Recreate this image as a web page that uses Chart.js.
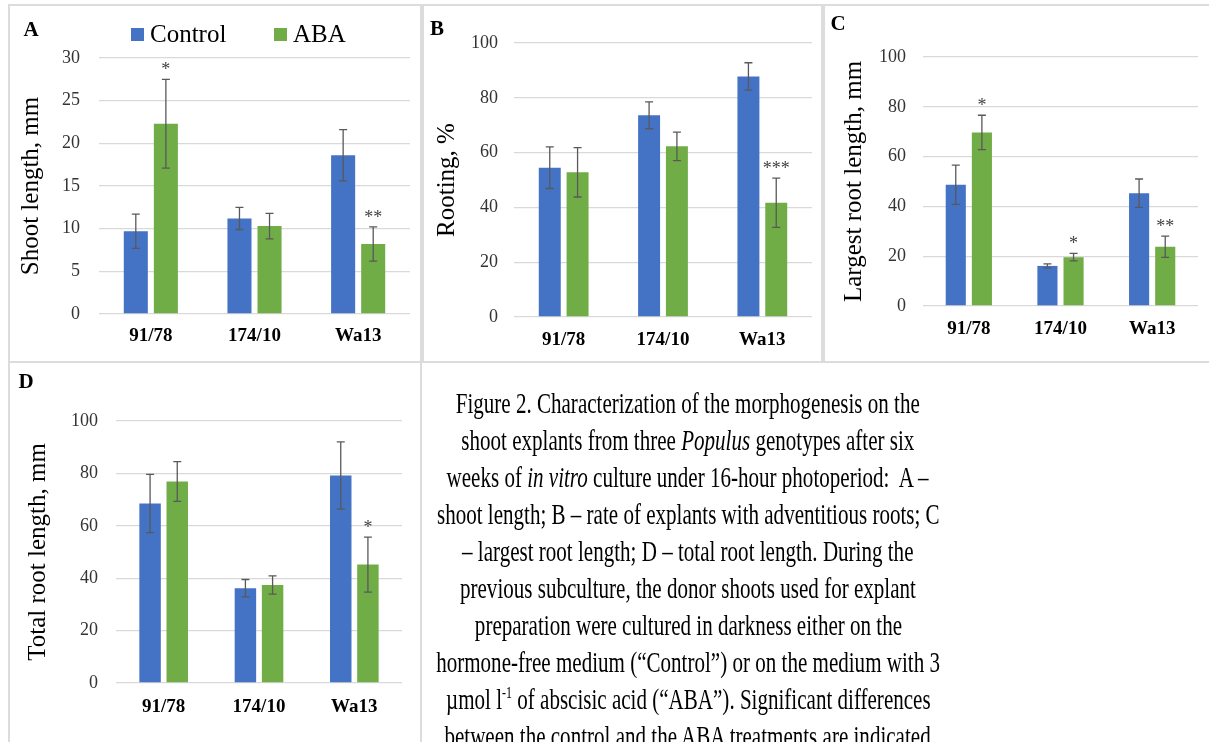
<!DOCTYPE html>
<html>
<head>
<meta charset="utf-8">
<script src="https://cdn.jsdelivr.net/npm/chart.js@4.4.1/dist/chart.umd.min.js"></script>
<style>
  body { margin: 0; background: #fff; width: 1209px; height: 742px; overflow: hidden; position: relative; font-family: 'Liberation Serif', 'Times New Roman', serif; }
  .frame { position: absolute; box-sizing: border-box; border: 2px solid #dcdcdc; }
  canvas { position: absolute; }
  #caption { position: absolute; left: 420px; top: 384px; width: 536px; font-size: 30px; line-height: 37px; color: #000; }
  #caption .ln { display: flex; justify-content: center; white-space: nowrap; }
  #caption .ln span { display: inline-block; transform-origin: center; }
  #caption sup { font-size: 17px; line-height: 0; }
</style>
</head>
<body>
<div class="frame" style="left:8px;top:4px;width:414px;height:359px"></div>
<div class="frame" style="left:422px;top:4px;width:401px;height:359px"></div>
<div class="frame" style="left:823px;top:4px;width:400px;height:359px"></div>
<div class="frame" style="left:8px;top:361px;width:414px;height:400px"></div>

<canvas id="cA" width="412" height="357" style="left:9px;top:5px"></canvas>
<canvas id="cB" width="399" height="357" style="left:423px;top:5px"></canvas>
<canvas id="cC" width="385" height="357" style="left:824px;top:5px"></canvas>
<canvas id="cD" width="412" height="380" style="left:9px;top:362px"></canvas>

<div id="caption">
  <div class="ln"><span>Figure 2. Characterization of the morphogenesis on the</span></div>
  <div class="ln"><span>shoot explants from three <i>Populus</i> genotypes after six</span></div>
  <div class="ln"><span>weeks of <i>in vitro</i> culture under 16-hour photoperiod:&nbsp; A –</span></div>
  <div class="ln"><span id="refLine">shoot length; B – rate of explants with adventitious roots; C</span></div>
  <div class="ln"><span>– largest root length; D – total root length. During the</span></div>
  <div class="ln"><span>previous subculture, the donor shoots used for explant</span></div>
  <div class="ln"><span>preparation were cultured in darkness either on the</span></div>
  <div class="ln"><span>hormone-free medium (“Control”) or on the medium with 3</span></div>
  <div class="ln"><span>µmol l<sup>-1</sup> of abscisic acid (“ABA”). Significant differences</span></div>
  <div class="ln"><span>between the control and the ABA treatments are indicated</span></div>
</div>

<script>
const genotypes = ['91/78', '174/10', 'Wa13'];

// A - shoot length, mm
const shootControl = [9.7, 11.2, 18.6];
const shootControlErr = [2.0, 1.3, 3.0];
const shootAba = [22.3, 10.3, 8.2];
const shootAbaErr = [5.2, 1.5, 2.0];
const shootSig = ['*', '', '**'];

// B - rooting, %
const rootingControl = [54.5, 73.6, 87.8];
const rootingControlErr = [7.6, 4.9, 5.0];
const rootingAba = [52.8, 62.3, 41.7];
const rootingAbaErr = [9.0, 5.2, 9.0];
const rootingSig = ['', '', '***'];

// C - largest root length, mm
const largestControl = [48.7, 16.1, 45.3];
const largestControlErr = [7.9, 0.8, 5.7];
const largestAba = [69.7, 19.6, 23.8];
const largestAbaErr = [6.9, 1.5, 4.3];
const largestSig = ['*', '*', '**'];

// D - total root length, mm
const totalControl = [68.5, 36.2, 79.2];
const totalControlErr = [11.1, 3.3, 12.8];
const totalAba = [76.9, 37.4, 45.2];
const totalAbaErr = [7.6, 3.5, 10.5];
const totalSig = ['', '', '*'];

const serif = "'Liberation Serif', 'Times New Roman', serif";
const blue = '#4472C4';
const green = '#70AD47';

// error bars + significance stars
const errorBars = {
    id: 'errorBars',
    afterDatasetsDraw(chart) {
        const ctx = chart.ctx;
        const y = chart.scales.y;
        ctx.save();
        chart.data.datasets.forEach((ds, i) => {
            const meta = chart.getDatasetMeta(i);
            meta.data.forEach((bar, j) => {
                const v = ds.data[j], e = ds.errors[j];
                const top = y.getPixelForValue(v + e);
                const bot = y.getPixelForValue(v - e);
                ctx.strokeStyle = '#595959';
                ctx.lineWidth = 1.3;
                ctx.beginPath();
                ctx.moveTo(bar.x, top); ctx.lineTo(bar.x, bot);
                ctx.moveTo(bar.x - 4, top); ctx.lineTo(bar.x + 4, top);
                ctx.moveTo(bar.x - 4, bot); ctx.lineTo(bar.x + 4, bot);
                ctx.stroke();
                const mark = ds.marks[j];
                if (mark) {
                    ctx.fillStyle = '#404040';
                    ctx.font = '18px ' + serif;
                    ctx.textAlign = 'center';
                    ctx.textBaseline = 'alphabetic';
                    ctx.fillText(mark, bar.x, top - 4);
                }
            });
        });
        ctx.restore();
    }
};

// panel letter and the shared legend
const deco = {
    id: 'deco',
    afterDraw(chart, args, opts) {
        const ctx = chart.ctx;
        ctx.save();
        ctx.fillStyle = '#000';
        ctx.font = 'bold 21px ' + serif;
        ctx.textAlign = 'center';
        ctx.textBaseline = 'middle';
        ctx.fillText(opts.letter, opts.lx, opts.ly);
        if (opts.legend) {
            const items = chart.data.datasets;
            const xs = [122, 265];
            ctx.font = '25px ' + serif;
            ctx.textAlign = 'left';
            items.forEach((ds, i) => {
                ctx.fillStyle = ds.backgroundColor;
                ctx.fillRect(xs[i], 23, 13, 13);
                ctx.fillStyle = '#000';
                ctx.fillText(ds.label, xs[i] + 19, 30);
            });
        }
        ctx.restore();
    }
};

function makeChart(p) {
    return new Chart(document.getElementById(p.id), {
        type: 'bar',
        data: {
            labels: genotypes,
            datasets: [
                {label: 'Control', data: p.control, errors: p.controlErr, marks: ['', '', ''], backgroundColor: blue,
                 categoryPercentage: p.cat, barPercentage: p.bar},
                {label: 'ABA', data: p.aba, errors: p.abaErr, marks: p.sig, backgroundColor: green,
                 categoryPercentage: p.cat, barPercentage: p.bar}
            ]
        },
        options: {
            responsive: false,
            animation: false,
            devicePixelRatio: 1,
            layout: {padding: {top: p.top, right: p.right, left: 0, bottom: 0}},
            plugins: {
                legend: {display: false},
                tooltip: {enabled: false},
                deco: {letter: p.letter, lx: p.lx, ly: p.ly, legend: p.legend}
            },
            scales: {
                x: {
                    grid: {display: false, drawTicks: false},
                    border: {display: false},
                    ticks: {font: {family: serif, size: 19, weight: 'bold'}, color: '#000', padding: p.xPad},
                    afterFit: s => { s.height = p.xH; }
                },
                y: {
                    min: 0, max: p.max,
                    ticks: {stepSize: p.step, font: {family: serif, size: 18}, color: '#333', padding: p.yPad},
                    grid: {color: '#d9d9d9', lineWidth: 1.3, drawTicks: false},
                    border: {display: false},
                    title: {display: true, text: p.title, font: {family: serif, size: 25}, color: '#000',
                            padding: {top: p.tPad, bottom: 0}},
                    afterFit: s => { s.width = p.yW; }
                }
            }
        },
        plugins: [errorBars, deco]
    });
}

makeChart({id: 'cA', letter: 'A', lx: 22, ly: 26, legend: true, title: 'Shoot length, mm', max: 30, step: 5,
    control: shootControl, controlErr: shootControlErr, aba: shootAba, abaErr: shootAbaErr, sig: shootSig,
    cat: 0.58, bar: 0.8, top: 53, right: 11, yW: 90, xH: 48, yPad: 19, xPad: 11, tPad: 7});
makeChart({id: 'cB', letter: 'B', lx: 14, ly: 25, legend: false, title: 'Rooting, %', max: 100, step: 20,
    control: rootingControl, controlErr: rootingControlErr, aba: rootingAba, abaErr: rootingAbaErr, sig: rootingSig,
    cat: 0.56, bar: 0.79, top: 38, right: 10, yW: 91, xH: 45, yPad: 16, xPad: 12, tPad: 9});
makeChart({id: 'cC', letter: 'C', lx: 14, ly: 20, legend: false, title: 'Largest root length, mm', max: 100, step: 20,
    control: largestControl, controlErr: largestControlErr, aba: largestAba, abaErr: largestAbaErr, sig: largestSig,
    cat: 0.57, bar: 0.77, top: 52, right: 11, yW: 99, xH: 56, yPad: 17, xPad: 12, tPad: 15});
makeChart({id: 'cD', letter: 'D', lx: 17, ly: 21, legend: false, title: 'Total root length, mm', max: 100, step: 20,
    control: totalControl, controlErr: totalControlErr, aba: totalAba, abaErr: totalAbaErr, sig: totalSig,
    cat: 0.57, bar: 0.79, top: 59, right: 19, yW: 107, xH: 59, yPad: 18, xPad: 13, tPad: 14});

// caption text is horizontally condensed in the original figure
const ref = document.getElementById('refLine');
const k = 503 / ref.offsetWidth;
document.querySelectorAll('#caption .ln span').forEach(s => { s.style.transform = 'scaleX(' + k + ')'; });
</script>
</body>
</html>
